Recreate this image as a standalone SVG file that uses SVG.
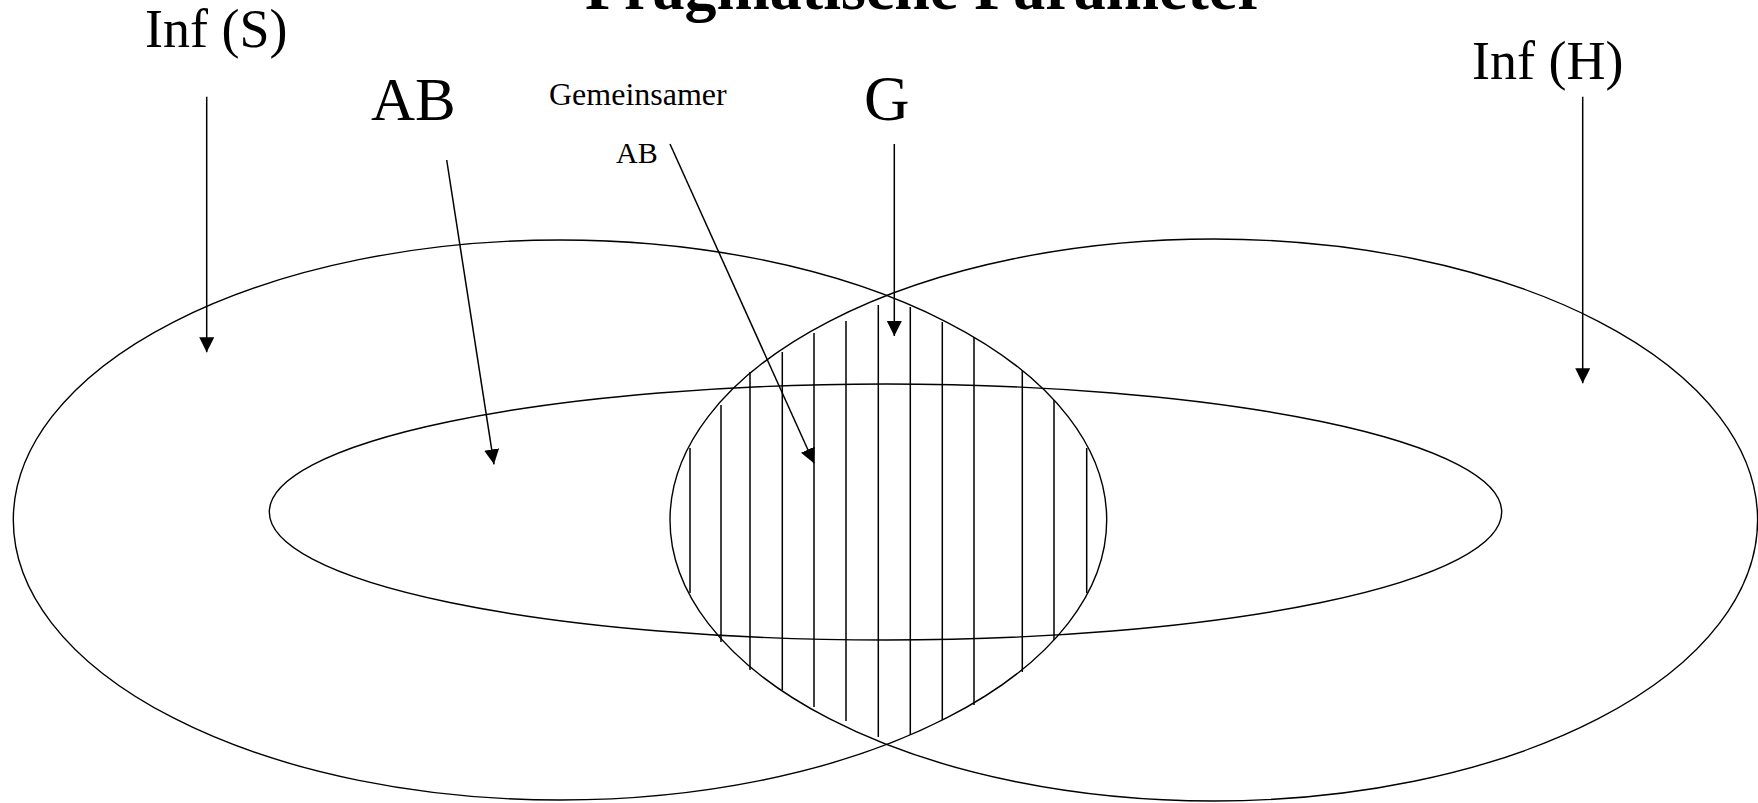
<svg xmlns="http://www.w3.org/2000/svg" width="1758" height="803" viewBox="0 0 1758 803">
<style>
.t{font-family:"Liberation Serif","Times New Roman",serif;fill:#000}
.ell{fill:none;stroke:#000;stroke-width:1.4}
.h{stroke:#000;stroke-width:1.5}
.a{stroke:#000;stroke-width:1.5;fill:none;marker-end:url(#ah)}
</style>
<defs>
<marker id="ah" markerUnits="userSpaceOnUse" markerWidth="16" markerHeight="16" refX="15" refY="7.5" orient="auto">
<path d="M0,0 L15,7.5 L0,15 z" fill="#000"/>
</marker>
</defs>
<rect width="1758" height="803" fill="#fff"/>
<g id="title"><text class="t" x="585" y="9" font-size="64" font-weight="bold">Pragmatische Parameter</text></g>
<g id="inf-s">
<ellipse class="ell" cx="560" cy="520" rx="546.7" ry="280"/>
<text class="t" x="145" y="47" font-size="54">Inf (S)</text>
</g>
<g id="inf-h">
<ellipse class="ell" cx="1213.8" cy="520" rx="543.8" ry="281"/>
<text class="t" x="1472" y="79" font-size="54">Inf (H)</text>
</g>
<g id="ab">
<ellipse class="ell" cx="885.5" cy="512" rx="616.2" ry="128"/>
<text class="t" x="371" y="120" font-size="61">AB</text>
</g>
<g id="g">
<g id="hatch">
<line class="h" x1="690" y1="448" x2="690" y2="593"/>
<line class="h" x1="721" y1="405" x2="721" y2="642"/>
<line class="h" x1="750" y1="372" x2="750" y2="670"/>
<line class="h" x1="782.3" y1="352" x2="782.3" y2="690"/>
<line class="h" x1="814" y1="333" x2="814" y2="707"/>
<line class="h" x1="846" y1="321" x2="846" y2="721"/>
<line class="h" x1="878.3" y1="305" x2="878.3" y2="737"/>
<line class="h" x1="910.3" y1="307" x2="910.3" y2="735"/>
<line class="h" x1="942.3" y1="322" x2="942.3" y2="720"/>
<line class="h" x1="974" y1="337" x2="974" y2="705"/>
<line class="h" x1="1022.3" y1="370" x2="1022.3" y2="672"/>
<line class="h" x1="1054" y1="400" x2="1054" y2="640"/>
<line class="h" x1="1086.7" y1="448" x2="1086.7" y2="593"/>
</g>
<text class="t" x="864" y="120" font-size="63">G</text>
</g>
<g id="common-ab">
<text class="t" x="549" y="105" font-size="32">Gemeinsamer</text>
<text class="t" x="616" y="163" font-size="30">AB</text>
</g>
<g id="connectors">
<line class="a" x1="206.7" y1="96.7" x2="206.7" y2="352.3"/>
<line class="a" x1="446.7" y1="160" x2="494" y2="464.3"/>
<line class="a" x1="670" y1="144" x2="814" y2="463.3"/>
<line class="a" x1="894.3" y1="144" x2="894.3" y2="336"/>
<line class="a" x1="1582.7" y1="96.7" x2="1582.7" y2="383.3"/>
</g>
</svg>
